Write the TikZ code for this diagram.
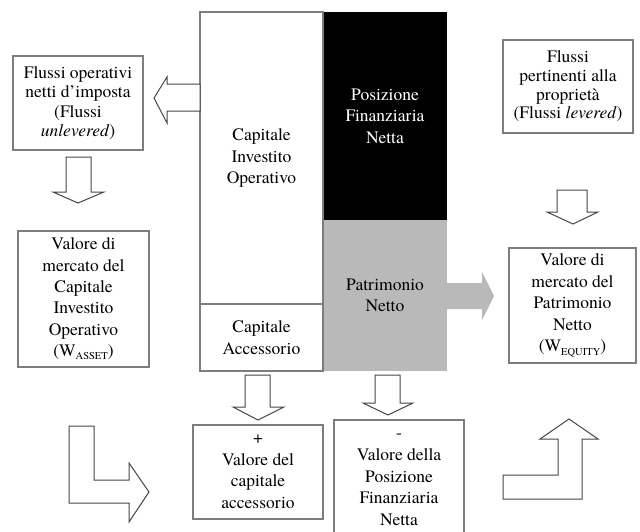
\documentclass[tikz,border=0pt]{standalone}
\usepackage{fontspec}
\setmainfont{TeX Gyre Termes}
\definecolor{boxline}{RGB}{125,125,125}
\definecolor{arrline}{RGB}{70,70,70}
\definecolor{pngray}{RGB}{185,185,185}
\begin{document}
\begin{tikzpicture}[x=1pt,y=-1pt,
  box/.style={draw=boxline, line width=1.2pt, fill=white, align=center, inner sep=0pt, font=\fontsize{17.5}{21}\selectfont},
  tightbox/.style={box, font=\fontsize{17.5}{19.5}\selectfont},
  blockarrow/.style={draw=arrline, line width=1pt, fill=white, line join=miter},
  plain/.style={inner sep=0pt, align=center, font=\fontsize{17.5}{21.5}\selectfont}
  ]
\useasboundingbox (0,0) rectangle (640,531);

% central block
\node[plain, fill=pngray, minimum width=124pt, minimum height=151pt] (pn) at (385,295.5) {Patrimonio\\Netto};
\fill[pngray] (447,283) -- (482,283) -- (482,272) -- (494,296) -- (482,320) -- (482,309) -- (447,309) -- cycle;
\node[plain, fill=black, text=white, minimum width=124pt, minimum height=208pt] (pfnb) at (385,116) {Posizione\\Finanziaria\\Netta};
\node[box, font=\fontsize{17.5}{21.5}\selectfont, minimum width=123pt, minimum height=292pt] (cio) at (261.5,158) {Capitale\\Investito\\Operativo};
\node[box, font=\fontsize{17.5}{21.5}\selectfont, minimum width=123pt, minimum height=67pt] (acc) at (261.5,337.5) {Capitale\\Accessorio};

% left side
\node[tightbox, minimum width=130pt, minimum height=94pt] (fo) at (78,103) {Flussi operativi\\netti d’imposta\\(Flussi\\\textit{unlevered})};
\draw[blockarrow] (200,84) -- (167,84) -- (167,77) -- (154,98) -- (167,123) -- (167,111) -- (200,111) -- cycle;
\draw[blockarrow] (66,157) -- (91,157) -- (91,192) -- (104,192) -- (78,203) -- (53,192) -- (66,192) -- cycle;
\node[box, font=\fontsize{17.5}{21.3}\selectfont, minimum width=131pt, minimum height=136pt] (wa) at (83.5,299) {Valore di\\mercato del\\Capitale\\Investito\\Operativo\\(W\raisebox{-3.5pt}{\fontsize{10.5}{11}\selectfont ASSET})};
\draw[blockarrow] (69,426) -- (94,426) -- (94,480) -- (129,480) -- (129,463) -- (149,492) -- (129,522) -- (129,503) -- (69,503) -- cycle;

% bottom middle
\draw[blockarrow] (245,375) -- (270,375) -- (270,407) -- (284,407) -- (258,420) -- (233,407) -- (245,407) -- cycle;
\draw[blockarrow] (375,375) -- (400,375) -- (400,403) -- (413,403) -- (388,415) -- (363,403) -- (375,403) -- cycle;
\node[box, font=\fontsize{17.5}{21.5}\selectfont, minimum width=130pt, minimum height=94pt] (vca) at (258,472) {+\\Valore del\\capitale\\accessorio};
\begin{scope}
\clip (0,0) rectangle (640,531);
\node[box, font=\fontsize{17.5}{21.8}\selectfont, minimum width=130pt, minimum height=120pt] (vpfn) at (399,480) {-\\Valore della\\Posizione\\Finanziaria\\Netta};
\end{scope}

% right side
\node[tightbox, font=\fontsize{17.5}{18.7}\selectfont, minimum width=130pt, minimum height=93pt] (fl) at (568,86.5) {Flussi\\pertinenti alla\\proprietà\\(Flussi \textit{levered})};
\draw[blockarrow] (557,190) -- (587,190) -- (587,212) -- (598,212) -- (573,224) -- (547,212) -- (557,212) -- cycle;
\node[box, font=\fontsize{17.5}{21.5}\selectfont, minimum width=127pt, minimum height=115pt] (we) at (572.5,305.5) {Valore di\\mercato del\\Patrimonio\\Netto\\(W\raisebox{-3.5pt}{\fontsize{10.5}{11}\selectfont EQUITY})};
\draw[blockarrow] (503,475) -- (558,475) -- (558,439) -- (540,439) -- (569,419) -- (598,439) -- (582,439) -- (582,499) -- (503,499) -- cycle;
\end{tikzpicture}
\end{document}
